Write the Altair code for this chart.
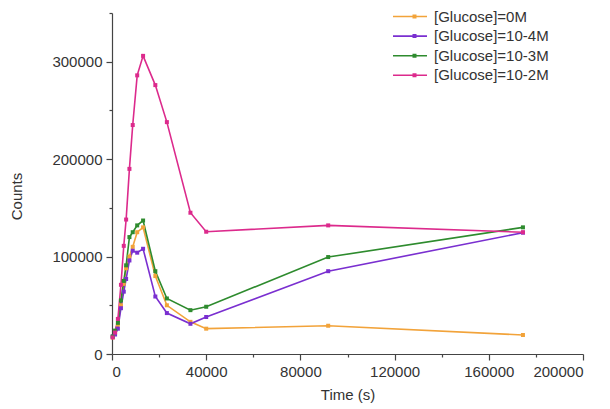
import altair as alt
import pandas as pd

time_s = [300, 1300, 2500, 3800, 5000, 6000, 7400, 8800, 10700, 13200, 18400, 23300, 33300, 40000, 91800, 174500]

glucose_0M = [17000, 22000, 30000, 50000, 72000, 88000, 100000, 110000, 125000, 130000, 80000, 50000, 33000, 26000, 29000, 19500]
glucose_1e4M = [18000, 20000, 26000, 47000, 64000, 77000, 96000, 106000, 104000, 108000, 59000, 42000, 31000, 38000, 85000, 124500]
glucose_1e3M = [18000, 24000, 32000, 55000, 75000, 91000, 120000, 125000, 132000, 137000, 85000, 57000, 45000, 48500, 99500, 130000]
glucose_1e2M = [17000, 22000, 36000, 71000, 111000, 138000, 190000, 235000, 286000, 306000, 276000, 238000, 145000, 125500, 132000, 125000]

series_names = ["[Glucose]=0M", "[Glucose]=10-4M", "[Glucose]=10-3M", "[Glucose]=10-2M"]
series_colors = ["#F2A33A", "#7A2FD0", "#2E8B2E", "#DC2A8C"]

rows = []
for name, vals in zip(series_names, [glucose_0M, glucose_1e4M, glucose_1e3M, glucose_1e2M]):
    for t, v in zip(time_s, vals):
        rows.append({"Time": t, "Counts": v, "Series": name, "Marker": name})
df = pd.DataFrame(rows)

FONT = "Liberation Sans"
TXT = "#333333"

x_enc = alt.X(
    "Time:Q",
    scale=alt.Scale(domain=[0, 200000], nice=False),
    axis=alt.Axis(
        title="Time (s)",
        values=list(range(0, 200001, 20000)),
        labelExpr="datum.value % 40000 == 0 ? datum.label : ''",
        format="d",
        grid=False,
        tickSize={"condition": {"test": "datum.value % 40000 == 0", "value": 6}, "value": 3},
        titleY=45,
        titleBaseline="alphabetic",
    ),
)
y_enc = alt.Y(
    "Counts:Q",
    scale=alt.Scale(domain=[0, 350000], nice=False),
    axis=alt.Axis(
        title="Counts",
        values=list(range(0, 350001, 50000)),
        labelExpr="datum.value % 100000 == 0 ? datum.label : ''",
        format="d",
        grid=False,
        tickSize={"condition": {"test": "datum.value % 100000 == 0", "value": 6}, "value": 3},
        titleX=-91,
        titleY=183,
        titleBaseline="alphabetic",
    ),
)
color_enc = alt.Color(
    "Series:N",
    scale=alt.Scale(domain=series_names, range=series_colors),
    sort=series_names,
    legend=alt.Legend(
        title=None,
        orient="none",
        legendX=280,
        legendY=-4,
        symbolType="stroke",
        symbolSize=1156,
        symbolStrokeWidth=1.6,
        labelFontSize=15,
        labelFont=FONT,
        labelColor=TXT,
        clipHeight=15,
        rowPadding=3.6,
        labelOffset=6,
        padding=0,
    ),
)
fill_enc = alt.Fill(
    "Marker:N",
    scale=alt.Scale(domain=series_names, range=series_colors),
    sort=series_names,
    legend=alt.Legend(
        title=None,
        orient="none",
        legendX=295,
        legendY=-4,
        symbolType="square",
        symbolSize=16,
        symbolStrokeWidth=0,
        symbolOpacity=1,
        labelExpr="''",
        labelFontSize=15,
        clipHeight=15,
        rowPadding=3.6,
        labelOffset=0,
        padding=0,
    ),
)

base = alt.Chart(df)
lines = base.mark_line(strokeWidth=1.6).encode(x=x_enc, y=y_enc, color=color_enc, order="Time:Q")
points = base.mark_point(filled=True, shape="square", size=16, opacity=1, strokeWidth=0).encode(
    x="Time:Q", y="Counts:Q", fill=fill_enc
)

chart = (
    alt.layer(lines, points)
    .resolve_scale(fill="independent")
    .resolve_legend(fill="independent", color="independent")
    .properties(
        width=471,
        height=341,
        background="white",
        autosize=alt.AutoSizeParams(type="none"),
        padding={"left": 112, "top": 13, "right": 27, "bottom": 55},
    )
    .configure_view(stroke=None)
    .configure_axis(
        labelFont=FONT,
        labelFontSize=15,
        labelColor=TXT,
        titleFont=FONT,
        titleFontSize=15,
        titleFontWeight="normal",
        titleColor=TXT,
        domainColor="#444444",
        tickColor="#444444",
        domainWidth=1.2,
        tickWidth=1.2,
        labelPadding=4,
    )
)

chart.save("out.html", embed_options={"renderer": "svg", "actions": False})
